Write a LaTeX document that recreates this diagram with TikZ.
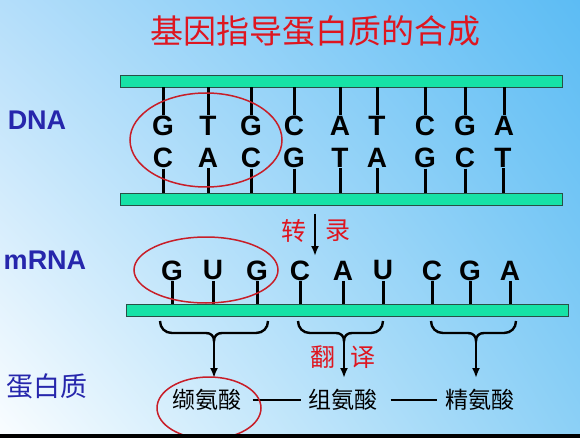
\documentclass[tikz,border=0pt]{standalone}
\usepackage{fontspec}
\setmainfont{Liberation Sans}
\newfontfamily\cjk{Noto Sans CJK SC}
\usetikzlibrary{shapes.geometric,arrows.meta,shadings}
\definecolor{bargreen}{RGB}{22,226,166}
\definecolor{baredge}{RGB}{40,80,70}
\definecolor{labblue}{RGB}{38,38,172}
\definecolor{titred}{RGB}{222,22,32}
\definecolor{ringred}{RGB}{200,30,40}
\definecolor{bgUL}{RGB}{180,222,250}
\definecolor{bgUR}{RGB}{92,188,244}
\definecolor{bgLL}{RGB}{250,253,255}
\definecolor{bgLR}{RGB}{140,208,246}
\begin{document}
\begin{tikzpicture}[x=1pt,y=-1pt,
  bar/.style={draw=baredge,line width=0.7pt,fill=bargreen,rectangle,inner sep=0pt},
  base/.style={inner sep=0pt,font=\fontsize{28}{28}\selectfont\bfseries},
  tick/.style={line width=3pt,black},
  lab/.style={inner sep=0pt,text=labblue,font=\fontsize{27}{27}\selectfont\bfseries},
  cjklab/.style={inner sep=0pt,text=labblue,font=\fontsize{27}{27}\selectfont\cjk},
  redtxt/.style={inner sep=0pt,text=titred,font=\fontsize{25}{25}\selectfont\cjk},
  amino/.style={inner sep=0pt,font=\fontsize{23}{23}\selectfont\cjk},
  ring/.style={draw=ringred,line width=1.5pt,ellipse,inner sep=0pt},
  bracepath/.style={line width=2.4pt,black},
  arr/.style={line width=2.4pt,black,-{Latex[length=10pt,width=8pt]}},
  link/.style={line width=2pt,black}]
\useasboundingbox (0,0) rectangle (580,438);
\shade[upper left=bgUL,upper right=bgUR,lower left=bgLL,lower right=bgLR] (0,0) rectangle (580,438);

% title
\node[inner sep=0pt,text=titred,font=\fontsize{33}{33}\selectfont\cjk] (title) at (315,31) {基因指导蛋白质的合成};

% labels
\node[lab] (ldna) at (37,120) {DNA};
\node[lab] (lmrna) at (45,260) {mRNA};
\node[cjklab] (lprot) at (47,386) {蛋白质};

% bars
\node[bar,minimum width=442pt,minimum height=12pt] (topbar) at (341,81) {};
\node[bar,minimum width=442pt,minimum height=12pt] (botbar) at (341,199) {};
\node[bar,minimum width=442pt,minimum height=12pt] (mbar) at (347,310) {};

% DNA top strand
\foreach \x/\l [count=\i] in {163/G,208/T,251/G,294/C,340/A,377/T,425/C,465/G,504/A}{
  \node[base] (t\i) at (\x,125.5) {\l};
  \draw[tick] ([yshift=0.5pt]t\i.north) -- (t\i.north |- topbar.south);
}
% DNA bottom strand
\foreach \x/\l [count=\i] in {163/C,208/A,251/C,294/G,340/T,377/A,425/G,465/C,503/T}{
  \node[base] (b\i) at (\x,158) {\l};
  \draw[tick] ([yshift=-0.5pt]b\i.south) -- (b\i.south |- botbar.north);
}
% mRNA
\foreach \x/\l [count=\i] in {172/G,213/U,257/G,300/C,343/A,383/U,432/C,470/G,510/A}{
  \node[base] (m\i) at (\x,270.5) {\l};
  \draw[tick] ([yshift=-0.5pt]m\i.south) -- (m\i.south |- mbar.north);
}

% red rings
\node[ring,minimum width=152pt,minimum height=94pt] (r1) at (206,140) {};
\node[ring,minimum width=144pt,minimum height=66pt] (r2) at (206,270) {};

% transcription arrow
\coordinate (ts) at (315,214);
\coordinate (te) at (315,256);
\draw[arr] (ts) -- (te);
\node[redtxt] (zhuan) at (294,231) {转};
\node[redtxt] (lu) at (338,231) {录};

% braces
\foreach \a/\m/\b [count=\i] in {160/214/268,298/344/383,431/476/516}{
  \draw[bracepath] (\a,321) .. controls (\a,328) and (\a+5,333) .. (\a+12,333)
     -- (\m-8,333) .. controls (\m-3,333) and (\m,336) .. (\m,341)
     .. controls (\m,336) and (\m+3,333) .. (\m+8,333)
     -- (\b-12,333) .. controls (\b-5,333) and (\b,328) .. (\b,321);
  \coordinate (c\i) at (\m,340);
  \coordinate (e\i) at (\m,378);
  \draw[arr] (c\i) -- (e\i);
}
\node[redtxt] (fan) at (323,357) {翻};
\node[redtxt] (yi) at (363,357) {译};

% amino acids
\node[amino] (val) at (207,400) {缬氨酸};
\node[amino] (his) at (343,400) {组氨酸};
\node[amino] (arg) at (480,400) {精氨酸};
\draw[link] ([xshift=11pt]val.east) -- ([xshift=-7pt]his.west);
\draw[link] ([xshift=13pt]his.east) -- ([xshift=-8pt]arg.west);
\node[ring,minimum width=104pt,minimum height=62pt] (r3) at (209,408) {};

\fill[black] (0,434) rectangle (580,438);
\end{tikzpicture}
\end{document}
